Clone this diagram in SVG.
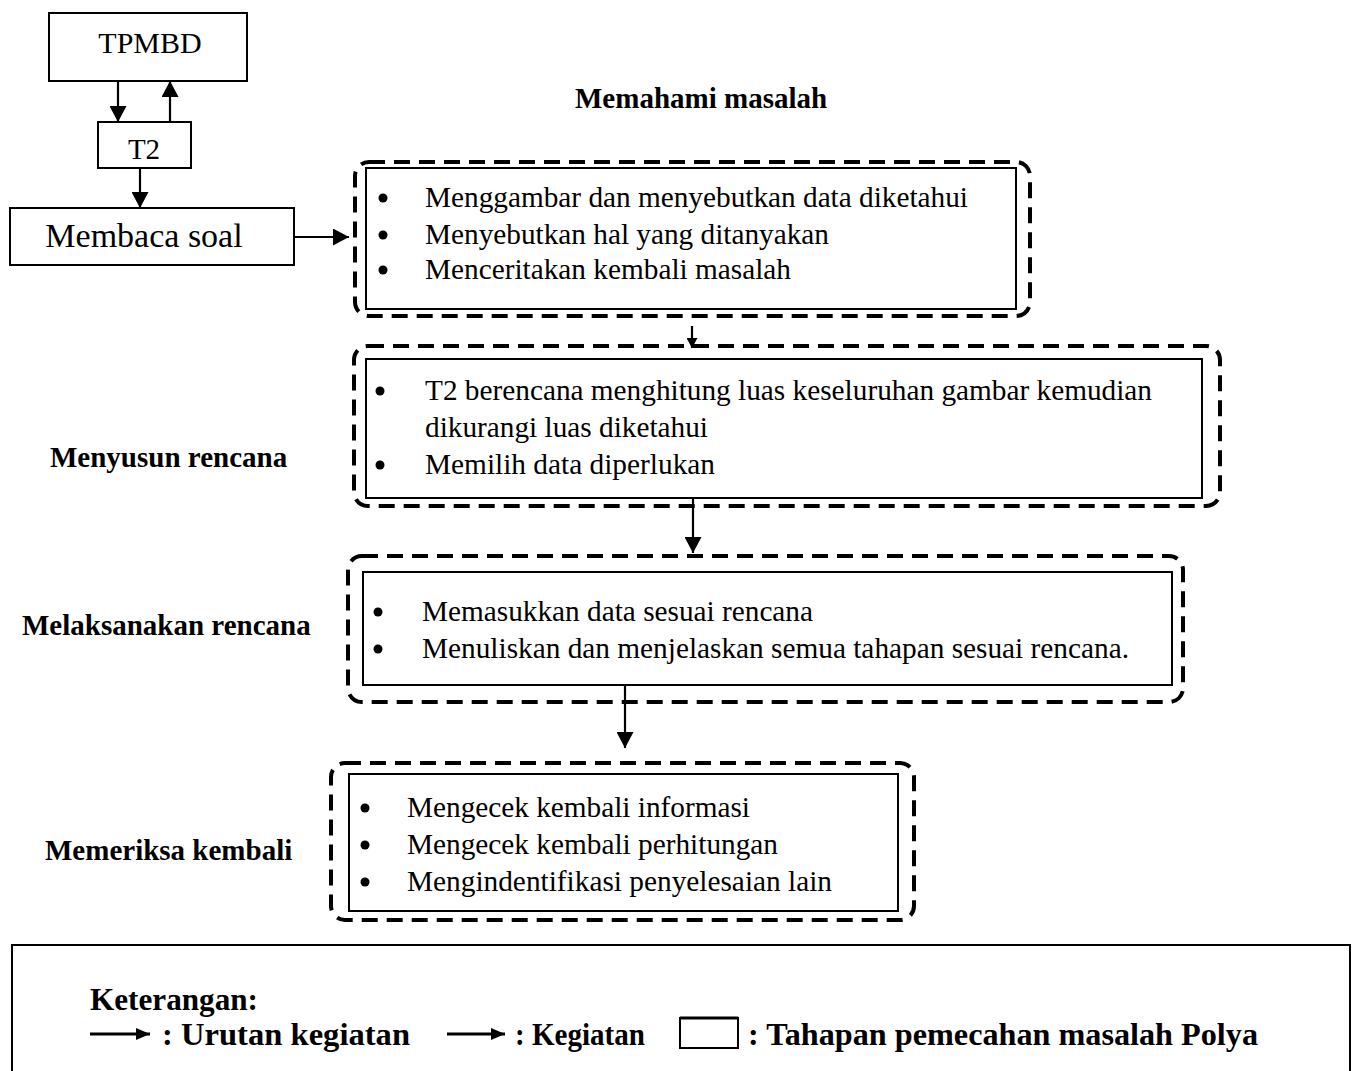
<svg xmlns="http://www.w3.org/2000/svg" width="1356" height="1071" viewBox="0 0 1356 1071">
<style>
.bg{fill:#fff}
.box{fill:#fff;stroke:#000;stroke-width:2}
.dash{fill:none;stroke:#000;stroke-width:4;stroke-dasharray:16 9}
.t{font-family:"Liberation Serif","Times New Roman",serif;fill:#000}
.body{font-size:29px}
.lbl{font-size:29px;font-weight:bold}
.leg{font-size:31px;font-weight:bold}
.con{stroke:#000;stroke-width:2.2;fill:none}
.legc{stroke:#000;stroke-width:3;fill:none}
</style>
<defs>
<marker id="ah" viewBox="0 0 16 17" refX="16" refY="8.5" markerWidth="16" markerHeight="17" markerUnits="userSpaceOnUse" orient="auto"><path d="M0,0 L16,8.5 L0,17 z" fill="#000"/></marker>
<marker id="ahs" viewBox="0 0 10 11" refX="10" refY="5.5" markerWidth="10" markerHeight="11" markerUnits="userSpaceOnUse" orient="auto"><path d="M0,0 L10,5.5 L0,11 z" fill="#000"/></marker>
<marker id="ahl" viewBox="0 0 14 12" refX="14" refY="6" markerWidth="14" markerHeight="12" markerUnits="userSpaceOnUse" orient="auto"><path d="M0,0 L14,6 L0,12 z" fill="#000"/></marker>
</defs>
<rect class="bg" x="0" y="0" width="1356" height="1071"/>

<g id="tpmbd">
<rect class="box" x="49" y="13" width="198" height="68"/>
<text class="t" x="150" y="53" font-size="30" text-anchor="middle">TPMBD</text>
</g>
<g id="t2">
<rect class="box" x="98" y="122" width="93" height="46"/>
<text class="t" x="144" y="159" font-size="29" text-anchor="middle">T2</text>
</g>
<g id="membaca">
<rect class="box" x="10" y="208" width="284" height="57"/>
<text class="t" x="144" y="247" font-size="34" text-anchor="middle">Membaca soal</text>
</g>

<g id="lbl-memahami"><text class="t lbl" x="575" y="108">Memahami masalah</text></g>
<g id="lbl-menyusun"><text class="t lbl" x="50" y="467">Menyusun rencana</text></g>
<g id="lbl-melaksanakan"><text class="t lbl" x="22" y="635">Melaksanakan rencana</text></g>
<g id="lbl-memeriksa"><text class="t lbl" x="45" y="860">Memeriksa kembali</text></g>

<g id="stage1">
<rect class="dash" x="355" y="162" width="675" height="154" rx="14"/>
<rect class="box" x="366" y="168" width="650" height="141"/>
<circle cx="383" cy="198" r="4.5"/><circle cx="383" cy="235" r="4.5"/><circle cx="383" cy="270" r="4.5"/>
<text class="t body" x="425" y="207" textLength="543" lengthAdjust="spacingAndGlyphs">Menggambar dan menyebutkan data diketahui</text>
<text class="t body" x="425" y="244" textLength="404" lengthAdjust="spacingAndGlyphs">Menyebutkan hal yang ditanyakan</text>
<text class="t body" x="425" y="279" textLength="366" lengthAdjust="spacingAndGlyphs">Menceritakan kembali masalah</text>
</g>

<g id="stage2">
<rect class="dash" x="354" y="346" width="866" height="160" rx="14"/>
<rect class="box" x="366" y="359" width="836" height="139"/>
<circle cx="380" cy="391" r="4.5"/><circle cx="380" cy="465" r="4.5"/>
<text class="t body" x="425" y="400" textLength="727" lengthAdjust="spacingAndGlyphs">T2 berencana menghitung luas keseluruhan gambar kemudian</text>
<text class="t body" x="425" y="437" textLength="283" lengthAdjust="spacingAndGlyphs">dikurangi luas diketahui</text>
<text class="t body" x="425" y="474" textLength="290" lengthAdjust="spacingAndGlyphs">Memilih data diperlukan</text>
</g>

<g id="stage3">
<rect class="dash" x="348" y="556" width="835" height="146" rx="14"/>
<rect class="box" x="363" y="572" width="809" height="113"/>
<circle cx="378" cy="612" r="4.5"/><circle cx="378" cy="649" r="4.5"/>
<text class="t body" x="422" y="621" textLength="391" lengthAdjust="spacingAndGlyphs">Memasukkan data sesuai rencana</text>
<text class="t body" x="422" y="658" textLength="707" lengthAdjust="spacingAndGlyphs">Menuliskan dan menjelaskan semua tahapan sesuai rencana.</text>
</g>

<g id="stage4">
<rect class="dash" x="331" y="763" width="583" height="157" rx="14"/>
<rect class="box" x="349" y="774" width="549" height="137"/>
<circle cx="365" cy="808" r="4.5"/><circle cx="365" cy="845" r="4.5"/><circle cx="365" cy="882" r="4.5"/>
<text class="t body" x="407" y="817" textLength="343" lengthAdjust="spacingAndGlyphs">Mengecek kembali informasi</text>
<text class="t body" x="407" y="854" textLength="371" lengthAdjust="spacingAndGlyphs">Mengecek kembali perhitungan</text>
<text class="t body" x="407" y="891" textLength="425" lengthAdjust="spacingAndGlyphs">Mengindentifikasi penyelesaian lain</text>
</g>

<g id="connectors">
<line class="con" x1="118" y1="81" x2="118" y2="122" marker-end="url(#ah)"/>
<line class="con" x1="170" y1="122" x2="170" y2="81" marker-end="url(#ah)"/>
<line class="con" x1="140" y1="168" x2="140" y2="208" marker-end="url(#ah)"/>
<line class="con" x1="294" y1="237" x2="349" y2="237" marker-end="url(#ah)"/>
<line class="con" x1="692" y1="326" x2="692" y2="348" marker-end="url(#ahs)"/>
<line class="con" x1="693" y1="498" x2="693" y2="553" marker-end="url(#ah)"/>
<line class="con" x1="625" y1="685" x2="625" y2="748" marker-end="url(#ah)"/>
</g>

<g id="legend">
<path d="M12,1071 V945 H1350 V1071" fill="none" stroke="#000" stroke-width="2"/>
<text class="t leg" x="90" y="1010" textLength="168" lengthAdjust="spacingAndGlyphs">Keterangan:</text>
<line class="legc" x1="90" y1="1034" x2="150" y2="1034" marker-end="url(#ahl)"/>
<text class="t leg" x="162" y="1045" textLength="248" lengthAdjust="spacingAndGlyphs">: Urutan kegiatan</text>
<line class="legc" x1="447" y1="1034" x2="505" y2="1034" marker-end="url(#ahl)"/>
<text class="t leg" x="515" y="1045" textLength="130" lengthAdjust="spacingAndGlyphs">: Kegiatan</text>
<rect x="680" y="1018" width="58" height="30" fill="none" stroke="#000" stroke-width="2"/>
<line x1="680" y1="1018" x2="738" y2="1018" stroke="#000" stroke-width="3"/>
<text class="t leg" x="748" y="1045" textLength="510" lengthAdjust="spacingAndGlyphs">: Tahapan pemecahan masalah Polya</text>
</g>
</svg>
